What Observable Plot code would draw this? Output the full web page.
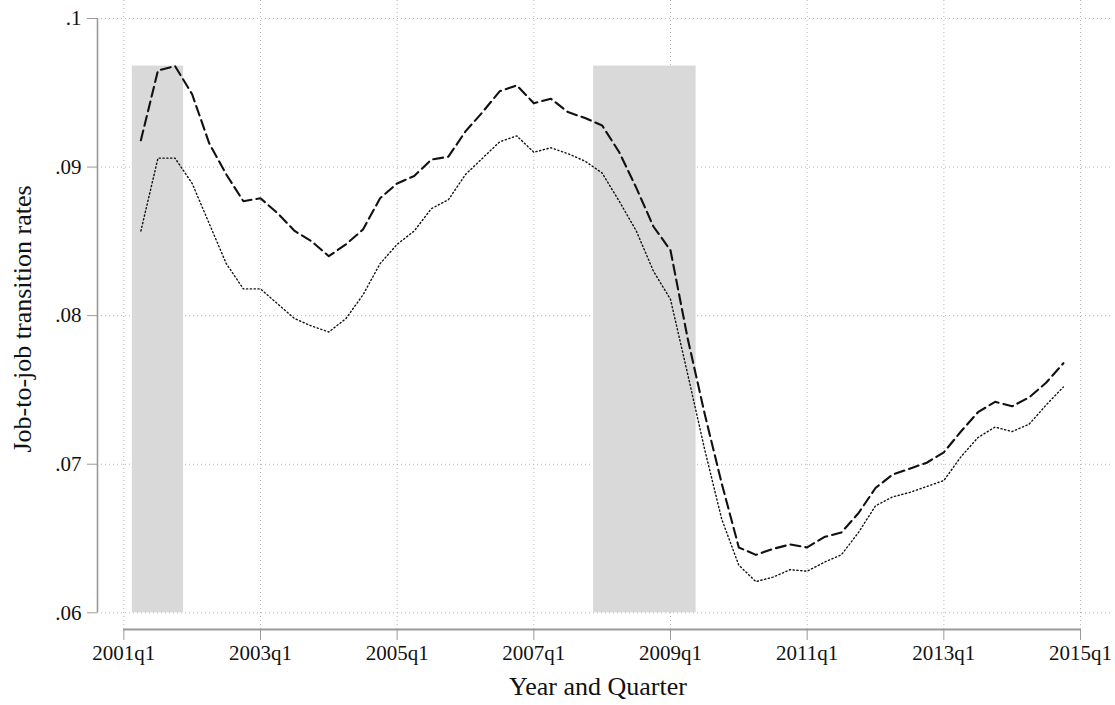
<!DOCTYPE html>
<html><head><meta charset="utf-8">
<script src="https://cdn.jsdelivr.net/npm/d3@7"></script>
<script src="https://cdn.jsdelivr.net/npm/@observablehq/plot@0.6"></script>
<style>body{margin:0;background:#fff} svg{display:block}</style>
</head><body><div id="chart"></div>
<script>
// ---- data ----
const firstQuarter = "2001q2";
const rateDashed = [
  0.0918, 0.0965, 0.0968, 0.0949, 0.0916, 0.0895, 0.0877, 0.0879, 0.0869, 0.0857,
  0.0850, 0.0840, 0.0848, 0.0858, 0.0879, 0.0889, 0.0894, 0.0905, 0.0907, 0.0924,
  0.0937, 0.0951, 0.0955, 0.0943, 0.0946, 0.0937, 0.0933, 0.0928, 0.0910, 0.0886,
  0.0860, 0.0844, 0.0785, 0.0734, 0.0687, 0.0644, 0.0639, 0.0643, 0.0646, 0.0644,
  0.0651, 0.0654, 0.0667, 0.0684, 0.0693, 0.0697, 0.0701, 0.0708, 0.0722, 0.0735,
  0.0742, 0.0739, 0.0745, 0.0755, 0.0768
];
const rateDotted = [
  0.0857, 0.0906, 0.0906, 0.0889, 0.0862, 0.0835, 0.0818, 0.0818, 0.0808, 0.0798,
  0.0793, 0.0789, 0.0798, 0.0814, 0.0835, 0.0848, 0.0857, 0.0872, 0.0878, 0.0895,
  0.0906, 0.0917, 0.0921, 0.0910, 0.0913, 0.0909, 0.0904, 0.0896, 0.0877, 0.0857,
  0.0830, 0.0811, 0.0761, 0.0710, 0.0663, 0.0632, 0.0621, 0.0624, 0.0629, 0.0628,
  0.0634, 0.0639, 0.0654, 0.0672, 0.0678, 0.0681, 0.0685, 0.0689, 0.0705, 0.0718,
  0.0725, 0.0722, 0.0727, 0.0740, 0.0752
];
const recessionStart = ["2001q2", "2008q1"];
const recessionEnd = ["2001q4", "2009q2"];
const xTickLabels = ["2001q1","2003q1","2005q1","2007q1","2009q1","2011q1","2013q1","2015q1"];
const yTicks = [0.06, 0.07, 0.08, 0.09, 0.1];
const yTickLabels = [".06", ".07", ".08", ".09", ".1"];
const xTitle = "Year and Quarter";
const yTitle = "Job-to-job transition rates";

// ---- helpers ----
const toT = s => +s.slice(0, 4) + (+s.slice(5) - 1) / 4;
const t0 = toT(firstQuarter);
const dashedRows = rateDashed.map((v, i) => ({t: t0 + i / 4, v}));
const dottedRows = rateDotted.map((v, i) => ({t: t0 + i / 4, v}));
const xTicks = xTickLabels.map(toT);
const shadeTop = d3.max(rateDashed);
const recessions = recessionStart.map((s, i) => ({
  x1: toT(s) - 0.125, x2: toT(recessionEnd[i]) + 0.125, y1: yTicks[0], y2: shadeTop
}));

const W = 1115, H = 705;
const mL = 97, mR = 5, mT = 0, mB = 76;
// scale extents so that 2001q1 -> x≈123, 2015q1 -> x≈1080; .1 -> y≈18, .06 -> y≈612
const pxPerYear = (1080 - 123.3) / 14;
const xDomain = [2001 - (123.3 - mL) / pxPerYear, 2015 + (W - mR - 1080) / pxPerYear];
const pxPerUnit = (612.3 - 18) / 0.04;
const yDomain = [0.06 - (H - mB - 612.3) / pxPerUnit, 0.1 + (18 - mT) / pxPerUnit];

const font = "Liberation Serif, Times New Roman, serif";
const axisGray = "#9a9a9a";

const chart = Plot.plot({
  width: W, height: H,
  marginLeft: mL, marginRight: mR, marginTop: mT, marginBottom: mB,
  style: {fontFamily: font, fontSize: "21px", color: "#111", background: "#fff"},
  x: {domain: xDomain, axis: null},
  y: {domain: yDomain, axis: null},
  marks: [
    Plot.gridY(yTicks, {stroke: "#b5b5b5", strokeOpacity: 1, strokeDasharray: "1,3"}),
    Plot.gridX(xTicks, {stroke: "#b5b5b5", strokeOpacity: 1, strokeDasharray: "1,3"}),
    Plot.rect(recessions, {x1: "x1", x2: "x2", y1: "y1", y2: "y2", fill: "#d9d9d9"}),
    Plot.line(dottedRows, {x: "t", y: "v", stroke: "#111", strokeWidth: 1.4, strokeDasharray: "1.2,2.6"}),
    Plot.line(dashedRows, {x: "t", y: "v", stroke: "#111", strokeWidth: 2.1, strokeDasharray: "10,5"}),
    // axis lines
    Plot.ruleX([xDomain[0]], {y1: yTicks[0], y2: yTicks[yTicks.length - 1], stroke: axisGray, strokeWidth: 1.6}),
    Plot.ruleY([yDomain[0]], {x1: xTicks[0], x2: xTicks[xTicks.length - 1], stroke: axisGray, strokeWidth: 2.2}),
    Plot.axisY(yTicks, {
      anchor: "left", tickSize: 10, tickPadding: 6, stroke: axisGray,
      tickFormat: d => yTickLabels[yTicks.indexOf(d)], fontSize: 21, label: null
    }),
    Plot.axisX(xTicks, {
      anchor: "bottom", tickSize: 11, tickPadding: 5, stroke: axisGray,
      tickFormat: d => xTickLabels[xTicks.indexOf(d)], fontSize: 21, label: null
    }),
    Plot.text([yTitle], {frameAnchor: "left", textAnchor: "middle", dx: -75, dy: 4, rotate: -90, fontSize: 26, fill: "#111"}),
    Plot.text([xTitle], {frameAnchor: "bottom", textAnchor: "middle", dy: 65, dx: -6, fontSize: 26, fill: "#111"})
  ]
});
document.getElementById("chart").appendChild(chart);
</script>
</body></html>
